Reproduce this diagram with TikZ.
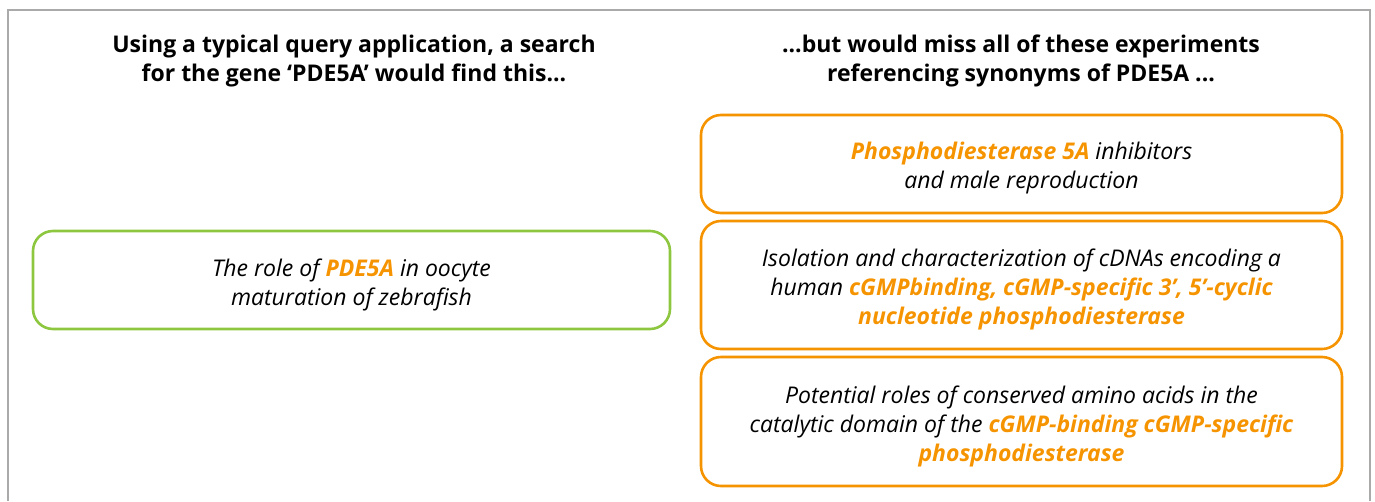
\documentclass[tikz,border=0pt]{standalone}
\usepackage{fontspec}
\setmainfont{Open Sans}
\usepackage{xcolor}
\usepackage{tikz}
\usetikzlibrary{positioning}
\definecolor{hitgreen}{RGB}{141, 198, 63}
\definecolor{missorange}{RGB}{245, 148, 0}
\definecolor{framegray}{RGB}{170, 170, 170}

\tikzset{
    heading/.style={font=\fontsize{23}{28.5}\selectfont\bfseries, align=center},
    paper/.style={rounded corners=20pt, line width=2.6pt, inner sep=0pt},
    hitbox/.style={paper, draw=hitgreen, minimum width=637pt, minimum height=98pt},
    missbox/.style={paper, draw=missorange, minimum width=641pt},
    title/.style={align=center, font=\fontsize{23}{29}\selectfont\itshape, yshift=-4.5pt},
}
\newcommand{\hl}[1]{\textcolor{missorange}{\bfseries #1}}

\begin{document}
\begin{tikzpicture}[x=1pt, y=-1pt]
    \useasboundingbox (0,0) rectangle (1375,501);
    % open frame round the two columns
    \draw[framegray, line width=1.2pt] (8,501) -- (8,10) -- (1370,10) -- (1370,501);

    % column headings
    \node[heading] (lefthead) at (354,61)
        {Using a typical query application, a search\\for the gene ‘PDE5A’ would find this...};
    \node[heading] (righthead) at (1021,61)
        {...but would miss all of these experiments\\referencing synonyms of PDE5A ...};

    % the one hit
    \node[hitbox] (found) at (351.5,280) {};
    \node[title] (foundtitle) at (found.center)
        {The role of \hl{PDE5A} in oocyte\\maturation of zebrafish};

    % the misses
    \node[missbox, minimum height=98pt] (missA) at (1021.5,164) {};
    \node[missbox, minimum height=128pt] (missB) at (1021.5,285) {};
    \node[missbox, minimum height=129pt] (missC) at (1021.5,421.5) {};
    \node[title] (missAtitle) at (missA.center)
        {\hl{Phosphodiesterase 5A} inhibitors\\and male reproduction};
    \node[title] (missBtitle) at (missB.center)
        {Isolation and characterization of cDNAs encoding a\\human \hl{cGMPbinding, cGMP-specific 3’, 5’-cyclic}\\\hl{nucleotide phosphodiesterase}};
    \node[title] (missCtitle) at (missC.center)
        {Potential roles of conserved amino acids in the\\catalytic domain of the \hl{cGMP-binding cGMP-specific}\\\hl{phosphodiesterase}};
\end{tikzpicture}
\end{document}
